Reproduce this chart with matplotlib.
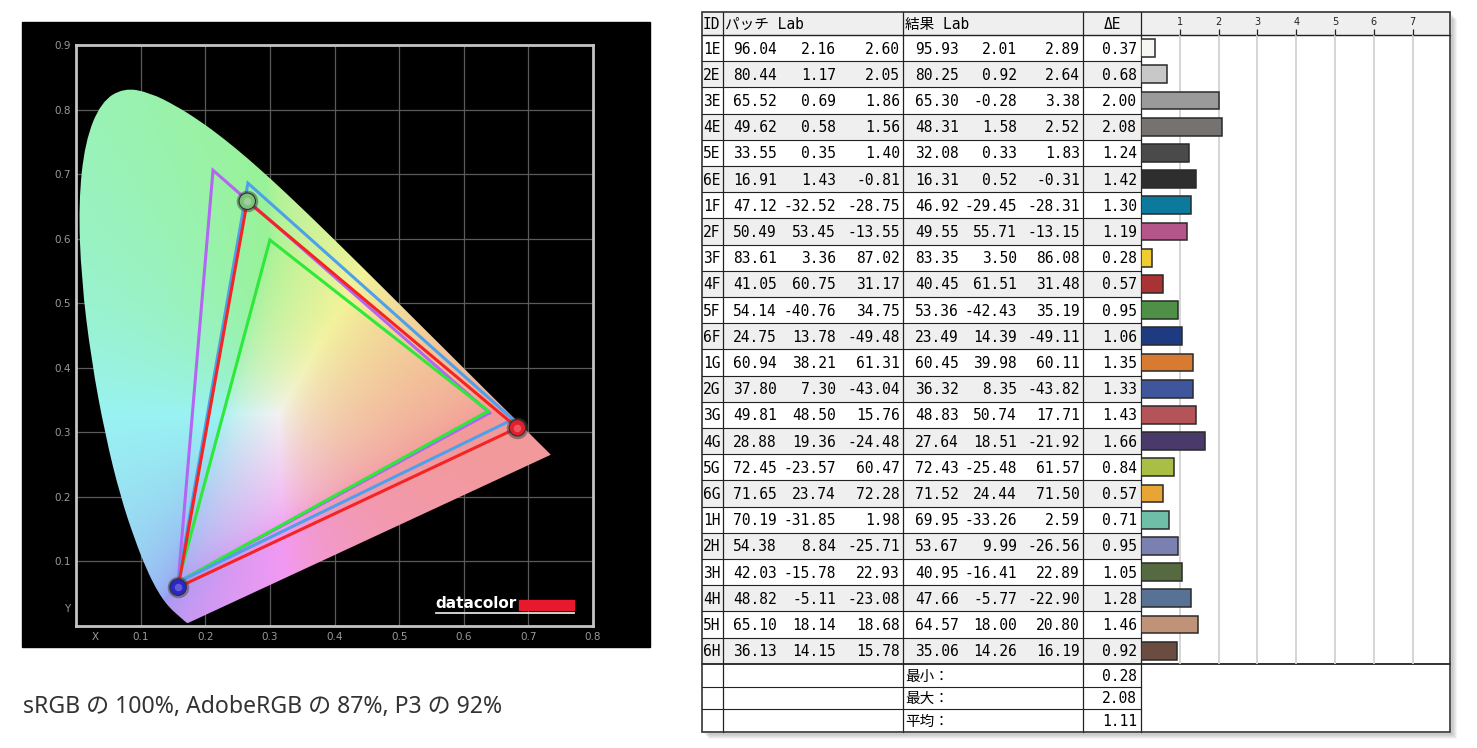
import numpy as np
import matplotlib
matplotlib.use("Agg")
import matplotlib.pyplot as plt
from matplotlib.patches import Rectangle, PathPatch
from matplotlib.path import Path

W, H = 1477, 748

# CIE 1931 spectral locus, 380-700 nm
locus_x = [0.1741, 0.1740, 0.1738, 0.1736, 0.1733, 0.1730, 0.1726, 0.1721, 0.1714, 0.1703,
           0.1689, 0.1669, 0.1644, 0.1611, 0.1566, 0.1510, 0.1440, 0.1355, 0.1241, 0.1096,
           0.0913, 0.0687, 0.0454, 0.0235, 0.0082, 0.0039, 0.0139, 0.0389, 0.0743, 0.1142,
           0.1547, 0.1929, 0.2296, 0.2658, 0.3016, 0.3373, 0.3731, 0.4087, 0.4441, 0.4788,
           0.5125, 0.5448, 0.5752, 0.6029, 0.6270, 0.6482, 0.6658, 0.6801, 0.6915, 0.7006,
           0.7079, 0.7140, 0.7190, 0.7230, 0.7260, 0.7300, 0.7347]
locus_y = [0.0050, 0.0050, 0.0049, 0.0049, 0.0048, 0.0048, 0.0048, 0.0048, 0.0051, 0.0058,
           0.0069, 0.0086, 0.0109, 0.0138, 0.0177, 0.0227, 0.0297, 0.0399, 0.0578, 0.0868,
           0.1327, 0.2007, 0.2950, 0.4127, 0.5384, 0.6548, 0.7502, 0.8120, 0.8338, 0.8262,
           0.8059, 0.7816, 0.7543, 0.7243, 0.6923, 0.6589, 0.6245, 0.5896, 0.5547, 0.5202,
           0.4866, 0.4544, 0.4242, 0.3965, 0.3725, 0.3514, 0.3340, 0.3197, 0.3083, 0.2993,
           0.2920, 0.2859, 0.2809, 0.2770, 0.2740, 0.2700, 0.2653]

# gamut triangles (R, G, B)
adobe_x = [0.640, 0.212, 0.158]
adobe_y = [0.330, 0.706, 0.068]
srgb_x = [0.638, 0.300, 0.158]
srgb_y = [0.333, 0.598, 0.068]
p3_x = [0.676, 0.266, 0.158]
p3_y = [0.320, 0.686, 0.068]
meas_x = [0.683, 0.265, 0.158]
meas_y = [0.307, 0.658, 0.060]

caption = "sRGB の 100%, AdobeRGB の 87%, P3 の 92%"

# table data
ids = ["1E", "2E", "3E", "4E", "5E", "6E", "1F", "2F", "3F", "4F", "5F", "6F",
       "1G", "2G", "3G", "4G", "5G", "6G", "1H", "2H", "3H", "4H", "5H", "6H"]
patch_L = [96.04, 80.44, 65.52, 49.62, 33.55, 16.91, 47.12, 50.49, 83.61, 41.05, 54.14, 24.75,
           60.94, 37.80, 49.81, 28.88, 72.45, 71.65, 70.19, 54.38, 42.03, 48.82, 65.10, 36.13]
patch_a = [2.16, 1.17, 0.69, 0.58, 0.35, 1.43, -32.52, 53.45, 3.36, 60.75, -40.76, 13.78,
           38.21, 7.30, 48.50, 19.36, -23.57, 23.74, -31.85, 8.84, -15.78, -5.11, 18.14, 14.15]
patch_b = [2.60, 2.05, 1.86, 1.56, 1.40, -0.81, -28.75, -13.55, 87.02, 31.17, 34.75, -49.48,
           61.31, -43.04, 15.76, -24.48, 60.47, 72.28, 1.98, -25.71, 22.93, -23.08, 18.68, 15.78]
res_L = [95.93, 80.25, 65.30, 48.31, 32.08, 16.31, 46.92, 49.55, 83.35, 40.45, 53.36, 23.49,
         60.45, 36.32, 48.83, 27.64, 72.43, 71.52, 69.95, 53.67, 40.95, 47.66, 64.57, 35.06]
res_a = [2.01, 0.92, -0.28, 1.58, 0.33, 0.52, -29.45, 55.71, 3.50, 61.51, -42.43, 14.39,
         39.98, 8.35, 50.74, 18.51, -25.48, 24.44, -33.26, 9.99, -16.41, -5.77, 18.00, 14.26]
res_b = [2.89, 2.64, 3.38, 2.52, 1.83, -0.31, -28.31, -13.15, 86.08, 31.48, 35.19, -49.11,
         60.11, -43.82, 17.71, -21.92, 61.57, 71.50, 2.59, -26.56, 22.89, -22.90, 20.80, 16.19]
delta_e = [0.37, 0.68, 2.00, 2.08, 1.24, 1.42, 1.30, 1.19, 0.28, 0.57, 0.95, 1.06,
           1.35, 1.33, 1.43, 1.66, 0.84, 0.57, 0.71, 0.95, 1.05, 1.28, 1.46, 0.92]
bar_colors = ["#f6f6f2", "#c8c8c8", "#9a9a9a", "#767270", "#4a4a4a", "#2e2e2e",
              "#0b7a9c", "#b5568a", "#f0cc30", "#a83234", "#4e9146", "#1e3a80",
              "#d87a30", "#3f569c", "#b55458", "#4a3a6a", "#a8be44", "#e6a535",
              "#6fbfa8", "#7a80b0", "#556a40", "#577295", "#c09278", "#6a4d40"]
summary_labels = ["最小：", "最大：", "平均："]
summary_vals = [0.28, 2.08, 1.11]

fig = plt.figure(figsize=(W / 100, H / 100), dpi=100)
fig.patch.set_facecolor("white")

# overlay axes in pixel units for the table and panels
ax_t = fig.add_axes([0, 0, 1, 1])
ax_t.set_xlim(0, W)
ax_t.set_ylim(H, 0)
ax_t.axis("off")

# black panel behind chromaticity chart
ax_t.add_patch(Rectangle((22, 22), 628, 625, color="black", zorder=0))

# ---------- chromaticity diagram ----------
ax = fig.add_axes([76 / W, 1 - 626 / H, 517 / W, 581 / H])
ax.set_facecolor("black")
ax.set_xlim(0, 0.8)
ax.set_ylim(0, 0.9)

gx, gy = np.meshgrid(np.linspace(0, 0.8, 640), np.linspace(0, 0.9, 720))
gys = np.maximum(gy, 1e-3)
XYZ = np.stack([gx / gys, np.ones_like(gx), (1 - gx - gy) / gys], -1)
M = np.array([[3.2406, -1.5372, -0.4986], [-0.9689, 1.8758, 0.0415], [0.0557, -0.2040, 1.0570]])
rgb = XYZ @ M.T
rgb -= np.minimum(rgb.min(-1, keepdims=True), 0)
rgb /= rgb.max(-1, keepdims=True)
rgb[..., 2] = rgb[..., 2] ** 3
rgb = rgb ** (1 / 2.0)
rgb = np.clip(0.6 + 0.35 * rgb, 0, 1)
im = ax.imshow(rgb, extent=(0, 0.8, 0, 0.9), origin="lower", aspect="auto",
               interpolation="bilinear", zorder=1)

# smooth outline through the locus points (quadratic segments), straight purple line
pts = np.column_stack([locus_x, locus_y])
verts = [pts[0]]
codes = [Path.MOVETO]
for i in range(1, len(pts) - 1):
    verts += [pts[i], (pts[i] + pts[i + 1]) / 2]
    codes += [Path.CURVE3, Path.CURVE3]
verts += [pts[-1], pts[0]]
codes += [Path.LINETO, Path.CLOSEPOLY]
horseshoe = PathPatch(Path(verts, codes), transform=ax.transData,
                      facecolor="none", edgecolor="none")
ax.add_patch(horseshoe)
im.set_clip_path(horseshoe)

for v in [0.1, 0.2, 0.3, 0.4, 0.5, 0.6, 0.7]:
    ax.axvline(v, color="#5a5a5a", lw=0.9, zorder=0)
for v in [0.1, 0.2, 0.3, 0.4, 0.5, 0.6, 0.7, 0.8]:
    ax.axhline(v, color="#5a5a5a", lw=0.9, zorder=0)

ax.set_xticks([0.03, 0.1, 0.2, 0.3, 0.4, 0.5, 0.6, 0.7, 0.8])
ax.set_xticklabels(["X", "0.1", "0.2", "0.3", "0.4", "0.5", "0.6", "0.7", "0.8"])
ax.set_yticks([0.028, 0.1, 0.2, 0.3, 0.4, 0.5, 0.6, 0.7, 0.8, 0.9])
ax.set_yticklabels(["Y", "0.1", "0.2", "0.3", "0.4", "0.5", "0.6", "0.7", "0.8", "0.9"])
ax.tick_params(length=0, colors="#9a9a9a", labelsize=7.5, pad=4)
for s in ax.spines.values():
    s.set_color("#c4c4c4")
    s.set_linewidth(2)

def tri(xs, ys, color):
    ax.plot(xs + xs[:1], ys + ys[:1], color=color, lw=2.2, zorder=3, solid_joinstyle="miter")

tri(adobe_x, adobe_y, "#b266f2")
tri(srgb_x, srgb_y, "#2ee83a")
tri(p3_x, p3_y, "#4fa0ea")
tri(meas_x, meas_y, "#f42424")

ball_colors = ["#e41f2c", "#7cc27a", "#2a26c8"]
ax.scatter(meas_x, meas_y, s=240, color="#404040", alpha=0.5, zorder=4, linewidths=0)
ax.scatter(meas_x, meas_y, s=140, color=ball_colors, edgecolors="#303030", linewidths=0.8, zorder=5)
ax.scatter(meas_x, meas_y, s=30, color="white", alpha=0.25, zorder=6, linewidths=0)

# datacolor logo
ax.text(0.696, 0.026, "datacolor", transform=ax.transAxes, color="white", fontsize=11,
        fontweight="bold", ha="left", va="bottom", zorder=7)
ax.add_patch(Rectangle((0.857, 0.028), 0.106, 0.017, transform=ax.transAxes,
                       color="#e8192c", zorder=7))
ax.plot([0.696, 0.963], [0.023, 0.023], transform=ax.transAxes, color="#e0e0e0", lw=1.3, zorder=7)

fig.text(23 / W, 1 - 713 / H, caption, fontsize=16.6, color="#333333",
         family=["Noto Sans", "Noto Sans CJK JP"], va="baseline")

# ---------- table ----------
x0, x_id, x_patch, x_res, x_de, x1 = 702, 723, 903, 1083, 1141, 1450
y0, y_head = 12, 35
row_h = 26.2
n = len(ids)
y_rows_end = y_head + n * row_h
sum_h = 22.7
y1 = y_rows_end + 3 * sum_h

for k in range(1, 8):
    ax_t.add_patch(Rectangle((x0 + k, y0 + k), x1 - x0, y1 - y0, color="black",
                             alpha=0.045, zorder=1, lw=0))
ax_t.add_patch(Rectangle((x0, y0), x1 - x0, y1 - y0, color="white", zorder=2))
ax_t.add_patch(Rectangle((x0, y0), x1 - x0, y_head - y0, color="#efefef", zorder=2))
for i in range(n):
    if i % 2 == 1:
        ax_t.add_patch(Rectangle((x0, y_head + i * row_h), x_de - x0, row_h,
                                 color="#efefef", zorder=2))

lc = "#222222"
# horizontal lines
for i in range(1, n):
    yy = y_head + i * row_h
    ax_t.plot([x0, x_de], [yy, yy], color=lc, lw=0.8, zorder=3)
for j in range(1, 3):
    yy = y_rows_end + j * sum_h
    ax_t.plot([x0, x_de], [yy, yy], color=lc, lw=0.8, zorder=3)
ax_t.plot([x0, x1], [y_head, y_head], color=lc, lw=1.0, zorder=3)
ax_t.plot([x0, x1], [y_rows_end, y_rows_end], color=lc, lw=1.3, zorder=3)
# vertical lines
for xx in [x_id, x_patch, x_res, x_de]:
    ax_t.plot([xx, xx], [y0, y1], color=lc, lw=0.9, zorder=3)
ax_t.add_patch(Rectangle((x0, y0), x1 - x0, y1 - y0, fill=False, edgecolor="#333333",
                         lw=1.2, zorder=3))

mono = ["DejaVu Sans Mono", "Noto Sans CJK JP"]
fs = 10.5
yc = y0 + (y_head - y0) / 2 + 1
ax_t.text(x0 + 1, yc, "ID", family=mono, fontsize=fs, va="center", ha="left", zorder=4)
ax_t.text(x_id + 2, yc, "パッチ Lab", family=mono, fontsize=fs, va="center", ha="left", zorder=4)
ax_t.text(x_patch + 2, yc, "結果 Lab", family=mono, fontsize=fs, va="center", ha="left", zorder=4)
ax_t.text((x_res + x_de) / 2, yc, "ΔE", family=mono, fontsize=fs, va="center", ha="center", zorder=4)

cols = [(777, patch_L), (836, patch_a), (900, patch_b), (959, res_L), (1017, res_a),
        (1080, res_b), (1137, delta_e)]
for i in range(n):
    yy = y_head + (i + 0.5) * row_h + 1
    ax_t.text(x0 + 1, yy, ids[i], family=mono, fontsize=fs, va="center", ha="left", zorder=4)
    for xr, vals in cols:
        ax_t.text(xr, yy, f"{vals[i]:.2f}", family=mono, fontsize=fs, va="center",
                  ha="right", zorder=4)
for j in range(3):
    yy = y_rows_end + (j + 0.5) * sum_h + 1
    ax_t.text(x_patch + 2, yy, summary_labels[j], family=mono, fontsize=fs, va="center",
              ha="left", zorder=4)
    ax_t.text(1137, yy, f"{summary_vals[j]:.2f}", family=mono, fontsize=fs, va="center",
              ha="right", zorder=4)

# ---------- delta E bars ----------
axb = fig.add_axes([x_de / W, 1 - y_rows_end / H, (x1 - x_de) / W, (y_rows_end - y_head) / H])
axb.set_facecolor("none")
axb.set_xlim(0, (x1 - x_de) / 38.8)
axb.set_ylim(n - 0.5, -0.5)
for v in range(1, 8):
    axb.axvline(v, color="#d2d2d2", lw=1.3, zorder=0)
axb.barh(np.arange(n), delta_e, height=0.68, color=bar_colors, edgecolor="#2a2a2a",
         linewidth=1.1, zorder=2)
axb.set_yticks([])
axb.set_xticks(range(1, 8))
axb.xaxis.set_ticks_position("top")
axb.tick_params(axis="x", top=True, bottom=False, labeltop=True, labelbottom=False,
                length=4.3, width=0.9, pad=1.5, labelsize=7, colors="#222222")
for s in axb.spines.values():
    s.set_visible(False)

fig.savefig("out.png", dpi=100, facecolor="white")
